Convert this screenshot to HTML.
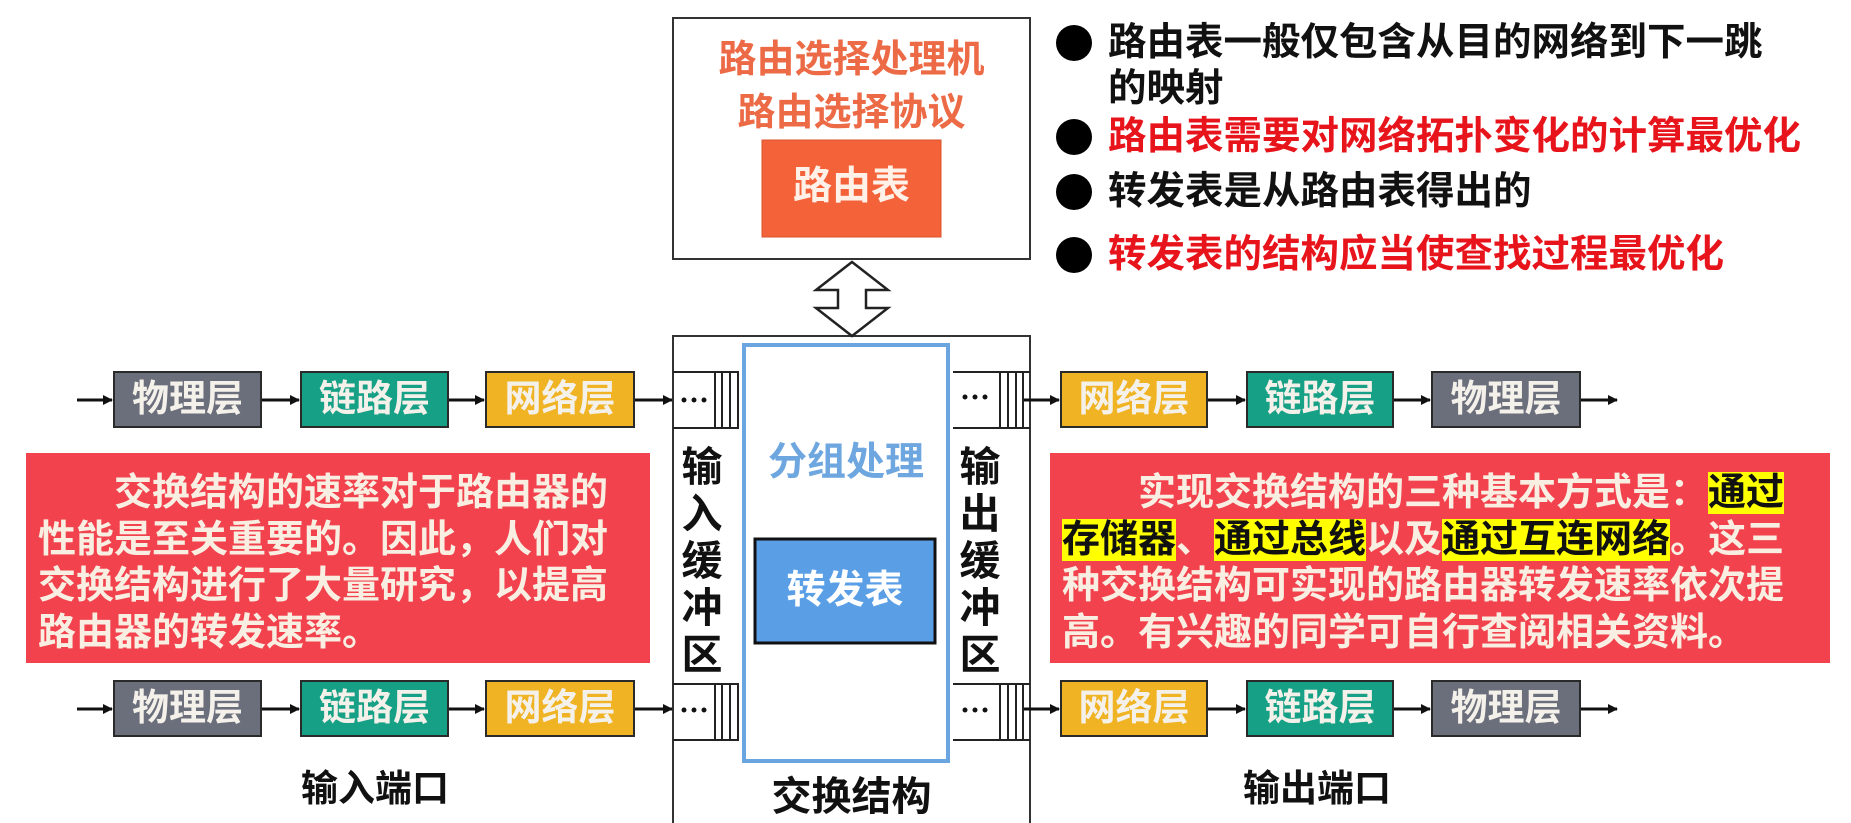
<!DOCTYPE html>
<html><head><meta charset="utf-8"><style>
body{margin:0;width:1851px;height:823px;background:#fff;position:relative;overflow:hidden;font-family:"Liberation Sans","Noto Sans CJK SC",sans-serif;font-weight:bold}
.a{position:absolute;white-space:nowrap}
.lay{position:absolute;height:57px;border:2px solid #2a2a2a;box-sizing:border-box;color:#f4f0ea;font-size:37px;text-align:center;line-height:52px}
.g{background:#6b6e7b}.t{background:#16a085}.y{background:#f0b323}
.red{position:absolute;background:#f2424e;color:#f8efe2;font-size:38px;line-height:46.5px;box-sizing:border-box;padding:17px 0 0 12px;white-space:nowrap}
.hl{background:#ffff00;color:#111}
.b{position:absolute;left:1056px;width:36px;height:36px;border-radius:50%;background:#000}
.bt{position:absolute;left:1108px;font-size:38.5px;line-height:46px;white-space:nowrap}
.v{position:absolute;width:48px;font-size:41px;line-height:47px;text-align:center;color:#111}
</style></head><body>
<svg class="a" style="left:0;top:0" width="1851" height="823">
<defs><marker id="ar" markerWidth="10" markerHeight="10" refX="9" refY="5" orient="auto" markerUnits="userSpaceOnUse"><path d="M0,0 L10,5 L0,10 z" fill="#111"/></marker></defs>
<rect x="673" y="18" width="357" height="241" fill="#fff" stroke="#333" stroke-width="2"/>
<rect x="673" y="336" width="357" height="500" fill="#fff" stroke="#333" stroke-width="2"/>
<path d="M852,262 L888,290 L866,290 L866,308 L888,308 L852,336 L816,308 L838,308 L838,290 L816,290 Z" fill="#fff" stroke="#222" stroke-width="2.5"/>
<g stroke="#111" stroke-width="3" marker-end="url(#ar)">
<line x1="77" y1="400" x2="112" y2="400"/><line x1="262" y1="400" x2="299" y2="400"/><line x1="449" y1="400" x2="484" y2="400"/><line x1="635" y1="400" x2="672" y2="400"/>
<line x1="1023" y1="400" x2="1059" y2="400"/><line x1="1208" y1="400" x2="1245" y2="400"/><line x1="1394" y1="400" x2="1430" y2="400"/><line x1="1581" y1="400" x2="1617" y2="400"/>
<line x1="77" y1="709" x2="112" y2="709"/><line x1="262" y1="709" x2="299" y2="709"/><line x1="449" y1="709" x2="484" y2="709"/><line x1="635" y1="709" x2="672" y2="709"/>
<line x1="1023" y1="709" x2="1059" y2="709"/><line x1="1208" y1="709" x2="1245" y2="709"/><line x1="1394" y1="709" x2="1430" y2="709"/><line x1="1581" y1="709" x2="1617" y2="709"/>
</g>
<g stroke="#222" stroke-width="2" fill="none">
<path d="M673,372 H738 V428 H673 M715,372 V428 M722,372 V428 M730,372 V428"/>
<path d="M673,684 H738 V740 H673 M715,684 V740 M722,684 V740 M730,684 V740"/>
<path d="M1030,372 H953 M953,428 H1030 M1000,372 V428 M1008,372 V428 M1016,372 V428 M1023,372 V428"/>
<path d="M1030,684 H953 M953,740 H1030 M1000,684 V740 M1008,684 V740 M1016,684 V740 M1023,684 V740"/>
</g>
<g fill="#111"><circle cx="684" cy="400" r="2.5"/><circle cx="694" cy="400" r="2.5"/><circle cx="704" cy="400" r="2.5"/>
<circle cx="684" cy="710" r="2.5"/><circle cx="694" cy="710" r="2.5"/><circle cx="704" cy="710" r="2.5"/>
<circle cx="965" cy="397" r="2.5"/><circle cx="975" cy="397" r="2.5"/><circle cx="985" cy="397" r="2.5"/>
<circle cx="965" cy="710" r="2.5"/><circle cx="975" cy="710" r="2.5"/><circle cx="985" cy="710" r="2.5"/></g>
<rect x="744" y="345" width="204" height="416" fill="#fff" stroke="#6aa5e0" stroke-width="4"/>
<rect x="755" y="539" width="180" height="104" fill="#5a9ee6" stroke="#111" stroke-width="3"/>
<rect x="762" y="140" width="179" height="97" fill="#f4623a" stroke="#d9532e" stroke-width="1"/>
</svg>
<div class="a" style="left:673px;width:357px;top:34px;text-align:center;color:#ec6a45;font-size:38px;line-height:53px">路由选择处理机<br>路由选择协议</div>
<div class="a" style="left:762px;width:179px;top:162px;text-align:center;color:#fff1e8;font-size:39px;line-height:50px">路由表</div>
<div class="a" style="left:744px;width:204px;top:440px;text-align:center;color:#6ea6df;font-size:39px;line-height:46px">分组处理</div>
<div class="a" style="left:755px;width:180px;top:568px;text-align:center;color:#fff;font-size:39px;line-height:46px">转发表</div>
<div class="v" style="left:678px;top:444px">输<br>入<br>缓<br>冲<br>区</div>
<div class="v" style="left:956px;top:444px">输<br>出<br>缓<br>冲<br>区</div>
<div class="a" style="left:673px;width:357px;top:774px;text-align:center;font-size:40px;line-height:46px;color:#111">交换结构</div>
<div class="a" style="left:275px;width:200px;top:766px;text-align:center;font-size:37px;line-height:46px;color:#111">输入端口</div>
<div class="a" style="left:1217px;width:200px;top:766px;text-align:center;font-size:37px;line-height:46px;color:#111">输出端口</div>

<div class="lay g" style="left:113px;top:371px;width:149px">物理层</div>
<div class="lay t" style="left:300px;top:371px;width:149px">链路层</div>
<div class="lay y" style="left:485px;top:371px;width:150px">网络层</div>
<div class="lay y" style="left:1060px;top:371px;width:148px">网络层</div>
<div class="lay t" style="left:1246px;top:371px;width:148px">链路层</div>
<div class="lay g" style="left:1431px;top:371px;width:150px">物理层</div>
<div class="lay g" style="left:113px;top:680px;width:149px">物理层</div>
<div class="lay t" style="left:300px;top:680px;width:149px">链路层</div>
<div class="lay y" style="left:485px;top:680px;width:150px">网络层</div>
<div class="lay y" style="left:1060px;top:680px;width:148px">网络层</div>
<div class="lay t" style="left:1246px;top:680px;width:148px">链路层</div>
<div class="lay g" style="left:1431px;top:680px;width:150px">物理层</div>

<div class="red" style="left:26px;top:453px;width:624px;height:210px">　　交换结构的速率对于路由器的<br>性能是至关重要的。因此，人们对<br>交换结构进行了大量研究，以提高<br>路由器的转发速率。</div>
<div class="red" style="left:1050px;top:453px;width:780px;height:210px">　　实现交换结构的三种基本方式是：<span class="hl">通过</span><br><span class="hl">存储器</span>、<span class="hl">通过总线</span>以及<span class="hl">通过互连网络</span>。这三<br>种交换结构可实现的路由器转发速率依次提<br>高。有兴趣的同学可自行查阅相关资料。</div>

<div class="b" style="top:25px"></div>
<div class="bt" style="top:20px;color:#111">路由表一般仅包含从目的网络到下一跳<br>的映射</div>
<div class="b" style="top:119px"></div>
<div class="bt" style="top:114px;color:#e8141c">路由表需要对网络拓扑变化的计算最优化</div>
<div class="b" style="top:174px"></div>
<div class="bt" style="top:169px;color:#111">转发表是从路由表得出的</div>
<div class="b" style="top:237px"></div>
<div class="bt" style="top:232px;color:#e8141c">转发表的结构应当使查找过程最优化</div>
</body></html>
